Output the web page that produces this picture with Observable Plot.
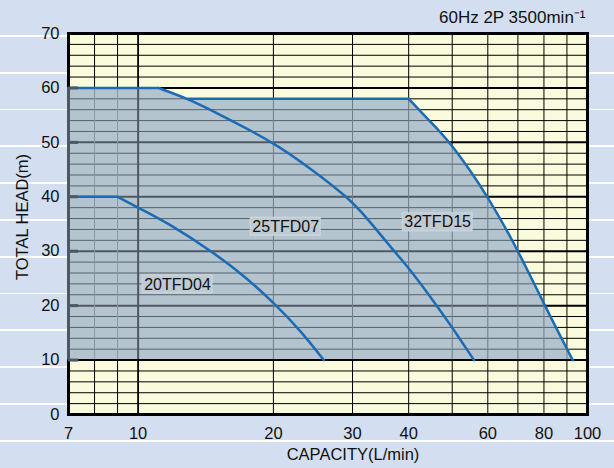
<!DOCTYPE html>
<html><head><meta charset="utf-8">
<script src="https://cdn.jsdelivr.net/npm/d3@7"></script>
<script src="https://cdn.jsdelivr.net/npm/@observablehq/plot@0.6"></script>
<style>
html,body{margin:0;padding:0;}
body{width:614px;height:468px;overflow:hidden;background:repeating-linear-gradient(to bottom,#d3def0 0px,#d3def0 35px,#ffffff 35px,#ffffff 36.8px);}
#chart svg{display:block;}
</style></head><body><div id="chart"></div>
<script>
// ---- data ----
const q04 = [7, 9.0, 10, 11.6, 14.7, 17.2, 20, 23.0, 25.9];
const h04 = [40, 40, 38.0, 35.3, 29.8, 25.5, 20.6, 15.4, 10];
const q07 = [7, 11.1, 12.9, 14.3, 16.1, 20, 24.2, 29.3, 32.4, 37.0, 40, 46.4, 50, 55.9];
const h07 = [60, 60, 58, 56.2, 54, 50, 45.2, 39.9, 36, 30.1, 27, 19.8, 16, 10];
const q15 = [12.9, 40, 44.4, 49.6, 60.2, 70.2, 80.3, 92.7];
const h15 = [58, 58, 54, 50, 40, 30, 20, 10];
const seriesNames = ["20TFD04", "25TFD07", "32TFD15"];
const labelQ = [12.24, 21.3, 46.4];
const labelH = [23.9, 34.5, 35.3];
const xTicks = [7, 10, 20, 30, 40, 60, 80, 100];
const xGrid = [8, 9, 10, 20, 30, 40, 50, 60, 70, 80, 90];
const yTicks = [0, 10, 20, 30, 40, 50, 60, 70];
const yGrid = d3.range(2, 70, 2);
const headTicks = [10, 20, 30, 40, 50, 60];
const titleText = "60Hz 2P 3500min⁻¹";
const xLabel = "CAPACITY(L/min)";
const yLabel = "TOTAL HEAD(m)";

// ---- tables ----
const toPts = (q, h, name) => q.map((x, i) => ({q: x, h: h[i], name}));
const s04 = toPts(q04, h04, seriesNames[0]);
const s07 = toPts(q07, h07, seriesNames[1]);
const s15 = toPts(q15, h15, seriesNames[2]);
function split(s) {
  let k = 0;
  while (k + 1 < s.length && s[k + 1].h === s[0].h) k++;
  return {flat: s.slice(0, k + 1), curve: s.slice(k)};
}
const parts = [s04, s07, s15].map(split);
const flatParts = parts.flatMap(p => p.flat);
const curveParts = parts.flatMap(p => p.curve);
const envelope = s07.filter(d => d.q < q15[0]).concat(s15);
const envStraight = s07.filter(d => d.q < q15[0]).concat(parts[2].flat);
const envCurve = parts[2].curve;
const labels = seriesNames.map((name, i) => ({name, q: labelQ[i], h: labelH[i]}));

function headAt(x) {
  for (let i = 0; i < envelope.length - 1; i++) {
    const a = envelope[i], b = envelope[i + 1];
    if (x >= a.q && x <= b.q) {
      const t = (Math.log(x) - Math.log(a.q)) / (Math.log(b.q) - Math.log(a.q));
      return a.h + t * (b.h - a.h);
    }
  }
  return NaN;
}
function capAt(h) {
  for (let i = 1; i < s15.length - 1; i++) {
    const a = s15[i], b = s15[i + 1];
    if (h <= a.h && h >= b.h) {
      const t = (a.h - h) / (a.h - b.h);
      return Math.exp(Math.log(a.q) + t * (Math.log(b.q) - Math.log(a.q)));
    }
  }
  return 7;
}
const greyH = yGrid.filter(h => h >= 12 && h <= 58).map(h => ({h, x2: capAt(h)}));
const greyV = xGrid.filter(x => x <= q15[q15.length - 1]).map(x => ({q: x, y2: headAt(x)}));

const cream = "#fafadc", grey = "#b4c4ce", blue = "#1c6cb5";
const vColor = x => x < 10 ? "#8a97a2" : x === 10 ? "#4e5862" : "#6f7b86";
const font = "'Liberation Sans', Arial, sans-serif";

const chart = Plot.plot({
  width: 614, height: 468,
  marginLeft: 68, marginRight: 27, marginTop: 33, marginBottom: 54,
  style: {fontFamily: font, background: "transparent", color: "#111"},
  x: {type: "log", domain: [7, 100], axis: null},
  y: {domain: [0, 70]},
  marks: [
    Plot.frame({fill: cream}),
    Plot.ruleY(yGrid.filter(h => h % 10), {stroke: "#000", strokeWidth: 1}),
    Plot.ruleY(yGrid.filter(h => h % 10 === 0), {stroke: "#000", strokeWidth: 2}),
    Plot.ruleX(xGrid.filter(x => x !== 10), {stroke: "#000", strokeWidth: 1}),
    Plot.ruleX([10], {stroke: "#000", strokeWidth: 1.8}),
    Plot.areaY(envStraight, {x: "q", y1: () => 10, y2: "h", fill: grey, curve: "linear"}),
    Plot.areaY(envCurve, {x: "q", y1: () => 10, y2: "h", fill: grey, curve: "basis"}),
    Plot.ruleY(greyH.filter(d => d.h % 10), {y: "h", x1: () => 7, x2: "x2", stroke: "#56616c", strokeWidth: 1}),
    Plot.ruleY(greyH.filter(d => d.h % 10 === 0), {y: "h", x1: () => 7, x2: "x2", stroke: "#4e5862", strokeWidth: 2}),
    Plot.ruleX(greyV, {x: "q", y1: () => 10, y2: "y2", stroke: d => vColor(d.q), strokeWidth: d => d.q === 10 ? 2 : 1}),
    Plot.ruleY([10], {stroke: "#000", strokeWidth: 2}),
    Plot.frame({stroke: "#000", strokeWidth: 3}),
    Plot.ruleX([7], {y1: () => 10, y2: () => 60, stroke: "#4e5862", strokeWidth: 3}),
    Plot.line(flatParts, {x: "q", y: "h", z: "name", stroke: blue, strokeWidth: 2.5, curve: "linear"}),
    Plot.line(curveParts, {x: "q", y: "h", z: "name", stroke: blue, strokeWidth: 2.5, curve: "basis"}),
    Plot.axisY(headTicks, {tickSize: -10, tickFormat: () => "", stroke: "#4e5862", strokeWidth: 3, label: null}),
    Plot.axisY(yTicks, {tickSize: 0, tickPadding: 9, fontSize: 16.5, label: null}),
    Plot.text(xTicks, {x: d => d, text: d => String(d), frameAnchor: "bottom", lineAnchor: "middle", dy: 19, fontSize: 16.5, fill: "#111"}),
    Plot.rect(labels, {x1: d => d.q / 1.196, x2: d => d.q * 1.196, y1: d => d.h - 1.65, y2: d => d.h + 1.65, fill: "#bfcad3", stroke: "#d0d9e0", strokeWidth: 1}),
    Plot.text(labels, {x: "q", y: "h", text: "name", fontSize: 16, fill: "#111"}),
    Plot.text([titleText], {text: d => d, frameAnchor: "top-right", textAnchor: "end", lineAnchor: "middle", dx: -2, dy: -16, fontSize: 17, fill: "#111"}),
    Plot.text([xLabel], {text: d => d, frameAnchor: "bottom", textAnchor: "middle", lineAnchor: "middle", dx: 25, dy: 40, fontSize: 16.5, fill: "#111"}),
    Plot.text([yLabel], {text: d => d, frameAnchor: "left", textAnchor: "middle", lineAnchor: "middle", dx: -46, dy: -7, rotate: -90, fontSize: 16.5, fill: "#111"})
  ]
});
document.getElementById("chart").appendChild(chart);
</script>
</body></html>
